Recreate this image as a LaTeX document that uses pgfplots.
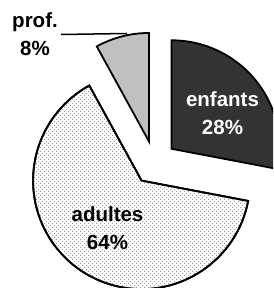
\documentclass[border=0pt]{standalone}
\usepackage{pgfplots}
\pgfplotsset{compat=1.18}
\usepackage{pgfplotstable}
\usepackage{fontspec}
\setmainfont{Liberation Sans}
\usetikzlibrary{patterns}
\definecolor{darkslice}{HTML}{333333}
\definecolor{lightslice}{HTML}{C0C0C0}
\definecolor{dotcol}{HTML}{9A9A9A}
\pgfdeclarepatternformonly{mydots}{\pgfqpoint{-1pt}{-1pt}}{\pgfqpoint{5pt}{5pt}}{\pgfqpoint{4pt}{4pt}}{%
  \pgfpathcircle{\pgfqpoint{0.5pt}{0.5pt}}{0.7pt}%
  \pgfpathcircle{\pgfqpoint{2.5pt}{2.5pt}}{0.7pt}%
  \pgfusepath{fill}}
\pgfplotstableread{
label share
enfants 28
adultes 64
prof 8
}\piedata
\pgfplotstablegetelem{0}{share}\of\piedata \let\sA\pgfplotsretval
\pgfplotstablegetelem{1}{share}\of\piedata \let\sB\pgfplotsretval
\pgfplotstablegetelem{2}{share}\of\piedata \let\sC\pgfplotsretval
% angles (clockwise from 12 o'clock)
\pgfmathsetmacro\aA{90}
\pgfmathsetmacro\aB{\aA-3.6*\sA}
\pgfmathsetmacro\aC{\aB-3.6*\sB}
\pgfmathsetmacro\aD{\aC-3.6*\sC}
% explode offsets along bisectors
\def\cx{154.5}\def\cy{125.2}\def\ex{22}\def\R{108.5pt}
\pgfmathsetmacro\mA{(\aA+\aB)/2}
\pgfmathsetmacro\mB{(\aB+\aC)/2}
\pgfmathsetmacro\mC{(\aC+\aD)/2}
\pgfmathsetmacro\pAx{\cx+\ex*cos(\mA)}\pgfmathsetmacro\pAy{\cy+\ex*sin(\mA)}
\pgfmathsetmacro\pBx{\cx+\ex*cos(\mB)}\pgfmathsetmacro\pBy{\cy+\ex*sin(\mB)}
\pgfmathsetmacro\pCx{\cx+\ex*cos(\mC)}\pgfmathsetmacro\pCy{\cy+\ex*sin(\mC)}
\begin{document}
\begin{tikzpicture}
\begin{axis}[
  x=1pt, y=1pt, xmin=0, xmax=273, ymin=0, ymax=288,
  scale only axis, hide axis, clip=true,
]
\coordinate (ll) at (axis cs:0,0);
\coordinate (ur) at (axis cs:273,288);
\filldraw[line width=1.8pt, fill=darkslice, line join=miter]
  (axis cs:\pAx,\pAy) -- ++(\aA:\R) arc[start angle=\aA, end angle=\aB, radius=\R] -- cycle;
\filldraw[line width=1.8pt, fill=white, line join=miter, postaction={pattern=mydots, pattern color=dotcol}]
  (axis cs:\pBx,\pBy) -- ++(\aB:\R) arc[start angle=\aB, end angle=\aC, radius=\R] -- cycle;
\draw[line width=1.8pt, line join=miter]
  (axis cs:\pBx,\pBy) -- ++(\aB:\R) arc[start angle=\aB, end angle=\aC, radius=\R] -- cycle;
\filldraw[line width=1.8pt, fill=lightslice, line join=miter]
  (axis cs:\pCx,\pCy) -- ++(\aC:\R) arc[start angle=\aC, end angle=\aD, radius=\R] -- cycle;
\draw[line width=1.5pt] (axis cs:61,253.5) -- (axis cs:127,254.5);
\node[align=center, inner sep=0, text=white, font=\fontsize{20.5}{28}\selectfont\bfseries]
  at (axis cs:222.5,174.5) {enfants\\\sA\%};
\node[align=center, inner sep=0, text=black, font=\fontsize{20.5}{28}\selectfont\bfseries]
  at (axis cs:107.5,60.2) {adultes\\\sB\%};
\node[align=center, inner sep=0, text=black, font=\fontsize{20.5}{28}\selectfont\bfseries]
  at (axis cs:35,253.5) {prof.\\\sC\%};
\end{axis}
\pgfresetboundingbox
\path[use as bounding box] (ll) rectangle (ur);
\end{tikzpicture}
\end{document}
